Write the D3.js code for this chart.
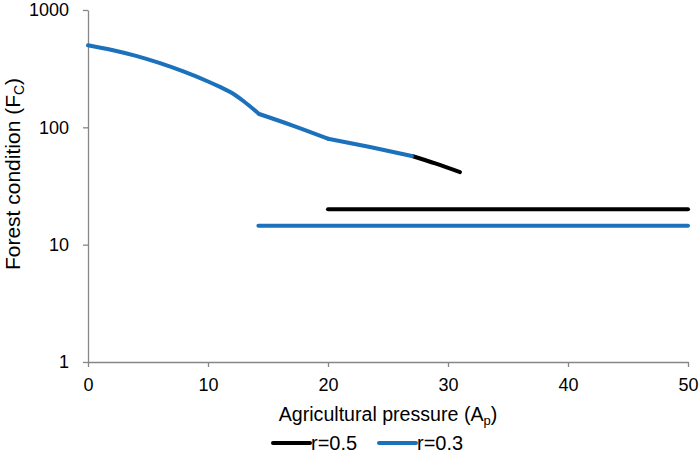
<!DOCTYPE html>
<html><head><meta charset="utf-8">
<script src="https://cdn.jsdelivr.net/npm/d3@7"></script>
<style>body{margin:0;background:#fff}svg{display:block}text{font-family:"Liberation Sans",Arial,sans-serif;fill:#000}</style>
</head><body><div id="chart"></div>
<script>
// r=0.3 (blue) curve
const blueCurveX = [0, 2, 4, 6, 8, 10, 11, 12, 13, 14.25, 17, 20, 23.5, 27];
const blueCurveY = [500, 456, 406, 352, 298, 246, 221, 196, 166, 130, 104, 80, 68, 57];
// r=0.5 (black) continuation
const blackCurveX = [27, 29, 31];
const blackCurveY = [57, 49, 41.5];
// horizontal branches
const blackFlatX = [20, 50];
const blackFlatY = [20, 20];
const blueFlatX = [14.2, 50];
const blueFlatY = [14.5, 14.5];
const xTicks = [0, 10, 20, 30, 40, 50];
const yTicks = [1, 10, 100, 1000];
const seriesNames = ["r=0.5", "r=0.3"];
const seriesColors = ["#000000", "#1b71bb"];

const W = 700, H = 454;
const m = {left: 88, right: 12, top: 10, bottom: 92};
const svg = d3.select("#chart").append("svg").attr("width", W).attr("height", H);
const x = d3.scaleLinear().domain([0, 50]).range([m.left, W - m.right]);
const y = d3.scaleLog().domain([1, 1000]).range([H - m.bottom, m.top]);
const axisColor = "#868686";

const xAxis = svg.append("g").attr("transform", `translate(0,${H - m.bottom})`)
  .call(d3.axisBottom(x).tickValues(xTicks).tickSize(5).tickSizeOuter(0).tickPadding(11).tickFormat(d3.format("d")));
const yAxis = svg.append("g").attr("transform", `translate(${m.left},0)`)
  .call(d3.axisLeft(y).tickValues(yTicks).tickSize(5).tickSizeOuter(0).tickPadding(14).tickFormat(d3.format("d")));
[xAxis, yAxis].forEach(a => {
  a.selectAll("path,line").attr("stroke", axisColor).attr("stroke-width", 1.3);
  a.selectAll("text").attr("font-size", 18).attr("font-family", "Liberation Sans, Arial, sans-serif").attr("fill", "#000");
});

const line = d3.line().x(d => x(d[0])).y(d => y(d[1])).curve(d3.curveMonotoneX);
function draw(xs, ys, color) {
  svg.append("path").datum(xs.map((v, i) => [v, ys[i]]))
    .attr("d", line).attr("fill", "none").attr("stroke", color)
    .attr("stroke-width", 4).attr("stroke-linecap", "round").attr("stroke-linejoin", "round");
}
draw(blackCurveX, blackCurveY, seriesColors[0]);
// blue curve drawn piecewise so kinks stay sharp
const k1 = blueCurveX.indexOf(14.25), k2 = blueCurveX.indexOf(20);
draw(blueCurveX.slice(0, k1 + 1), blueCurveY.slice(0, k1 + 1), seriesColors[1]);
draw(blueCurveX.slice(k1, k2 + 1), blueCurveY.slice(k1, k2 + 1), seriesColors[1]);
draw(blueCurveX.slice(k2), blueCurveY.slice(k2), seriesColors[1]);
draw(blackFlatX, blackFlatY, seriesColors[0]);
draw(blueFlatX, blueFlatY, seriesColors[1]);

// axis titles
const xt = svg.append("text").attr("x", (x(0) + x(50)) / 2).attr("y", 421)
  .attr("text-anchor", "middle").attr("font-size", 19.6);
xt.append("tspan").text("Agricultural pressure (A");
xt.append("tspan").text("p").attr("font-size", 13).attr("dy", 4);
xt.append("tspan").text(")").attr("dy", -4);

const yt = svg.append("text").attr("transform", `translate(20,174) rotate(-90)`)
  .attr("text-anchor", "middle").attr("font-size", 21);
yt.append("tspan").text("Forest condition (F");
yt.append("tspan").text("C").attr("font-size", 14).attr("dy", 4);
yt.append("tspan").text(")").attr("dy", -4);

// legend
const leg = svg.append("g");
const legX = [273, 379];
seriesNames.forEach((n, i) => {
  leg.append("line").attr("x1", legX[i]).attr("x2", legX[i] + 37).attr("y1", 443).attr("y2", 443)
    .attr("stroke", seriesColors[i]).attr("stroke-width", 4).attr("stroke-linecap", "round");
  leg.append("text").attr("x", legX[i] + 38).attr("y", 450).attr("font-size", 20).text(n);
});
</script></body></html>
